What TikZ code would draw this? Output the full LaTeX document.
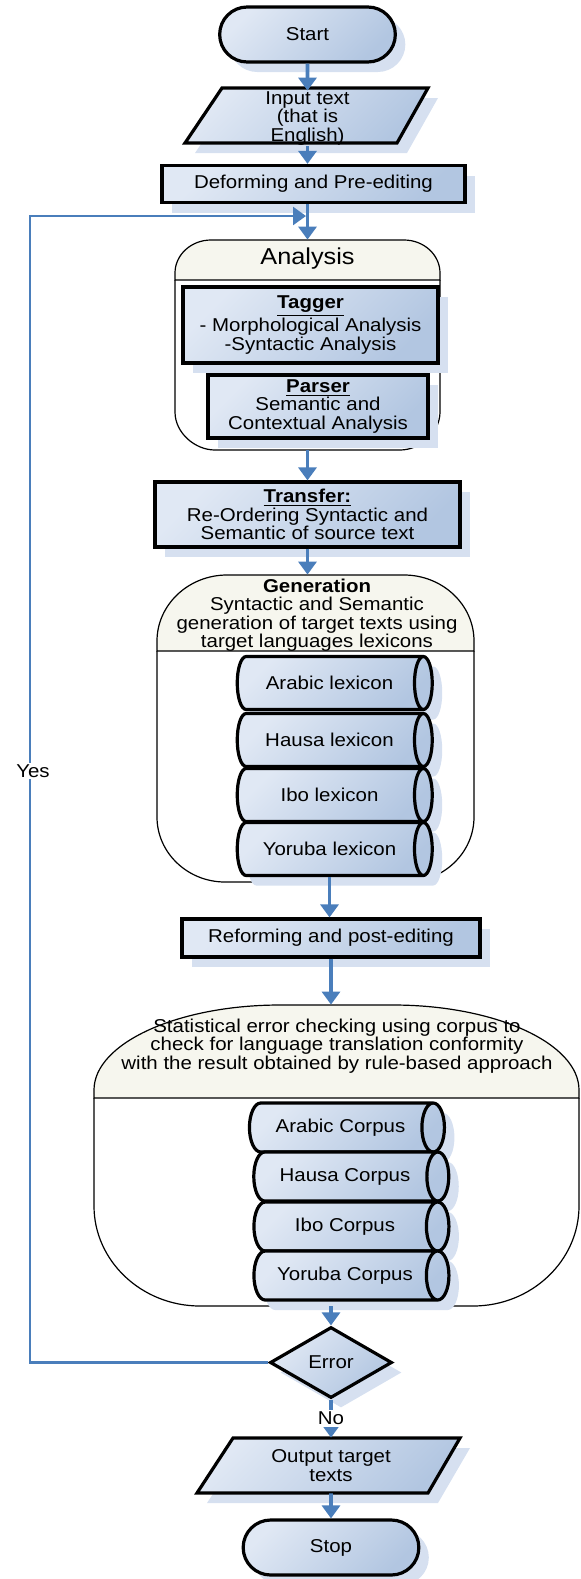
\documentclass[tikz,border=0pt]{standalone}
\usepackage{fontspec}
\setmainfont{Liberation Sans}[FakeStretch=1.1]
\usepackage{tikz}
\usetikzlibrary{arrows.meta}
\usetikzlibrary{shapes.geometric}
\usetikzlibrary{shapes.misc}
\usetikzlibrary{shadows}
\usetikzlibrary{fit}

\definecolor{boxlight}{HTML}{E0E8F4}
\definecolor{boxdark}{HTML}{B2C6E1}
\definecolor{shadowblue}{HTML}{D6E0F0}
\definecolor{flowblue}{HTML}{4A7EBB}
\definecolor{headfill}{HTML}{F6F6EE}

\begin{document}
\begin{tikzpicture}[x=0.5pt, y=-0.5pt,
    font=\fontsize{9.3}{9.2}\selectfont,
    every node/.style={align=center},
    bluefill/.style={top color=boxlight, bottom color=boxdark, shading angle=45},
    shadowed/.style={drop shadow={shadow xshift=5pt, shadow yshift=-5pt, fill=shadowblue, opacity=1}},
    procbox/.style={rectangle, draw, line width=1.6pt, bluefill, shadowed, inner sep=1pt},
    termbox/.style={rounded rectangle, draw, line width=1.6pt, bluefill, shadowed, minimum width=94.5pt, minimum height=27.5pt},
    lexicon/.style={cylinder, shape aspect=1.3, draw, line width=1.6pt, bluefill, shadowed, minimum height=97.5pt, minimum width=26.5pt, inner sep=0pt},
    corpus/.style={lexicon, minimum width=24.5pt},
    decision/.style={diamond, draw, line width=1.6pt, bluefill, shadowed, minimum width=61pt, minimum height=35.5pt, inner sep=0pt},
    iobox/.style={draw, line width=1.6pt, bluefill, shadowed},
    frame/.style={draw, line width=0.6pt},
    flow/.style={draw=flowblue, line width=1.8pt, -{Triangle[width=9pt,length=6.5pt]}},
    backflow/.style={flow, line width=1.3pt}]

  \useasboundingbox (0,0) rectangle (581,1579);

  \node[fit={(175,240) (440,450)}, inner sep=0] (ana) {};
  \filldraw[frame, fill=headfill] (175,280) -- (175,273) .. controls (175,254.8) and (191.2,240) .. (211,240) -- (404,240) .. controls (423.8,240) and (440,254.8) .. (440,273) -- (440,280) -- cycle;
  \draw[frame] (175,280) -- (175,412) .. controls (175,432.9) and (195,450) .. (215,450) -- (400,450) .. controls (420,450) and (440,432.9) .. (440,412) -- (440,280);

  \node[fit={(157,575) (474,882)}, inner sep=0] (gen) {};
  \filldraw[frame, fill=headfill] (157,651) -- (157,641) .. controls (157,604.7) and (188.5,575) .. (227,575) -- (404,575) .. controls (442.5,575) and (474,604.7) .. (474,641) -- (474,651) -- cycle;
  \draw[frame] (157,651) -- (157,817) .. controls (157,852.8) and (187.6,882) .. (225,882) -- (406,882) .. controls (443.4,882) and (474,852.8) .. (474,817) -- (474,651);

  \node[fit={(94,1005) (579,1306)}, inner sep=0] (stat) {};
  \filldraw[frame, fill=headfill] (94,1098) -- (94,1090) .. controls (94,1043.3) and (177.7,1005) .. (280,1005) -- (393,1005) .. controls (495.3,1005) and (579,1043.3) .. (579,1090) -- (579,1098) -- cycle;
  \draw[frame] (94,1098) -- (94,1206) .. controls (94,1261) and (141.7,1306) .. (200,1306) -- (473,1306) .. controls (531.3,1306) and (579,1261) .. (579,1206) -- (579,1098);

  \node[termbox] (start) at (307.5,34.5) {Start};
  \filldraw[iobox] (222,88) -- (428,88) -- (397,143) -- (185,143) -- cycle;
  \node[minimum width=100pt, minimum height=27.5pt, inner sep=0] (inp) at (307.5,118.5) {Input text\\(that is\\English)};
  \node[procbox, minimum width=151.5pt, minimum height=18.5pt] (def) at (313.5,184) {Deforming and Pre-editing};
  \node (anatitle) at (307.5,259) {\fontsize{11.5}{12}\selectfont Analysis};
  \node[procbox, minimum width=127.5pt, minimum height=38pt] (tag) at (310.5,325) {\underline{\textbf{Tagger}}\\- Morphological Analysis\\-Syntactic Analysis};
  \node[procbox, minimum width=110pt, minimum height=31.5pt] (par) at (318,406.5) {\underline{\textbf{Parser}}\\Semantic and\\Contextual Analysis};
  \node[procbox, minimum width=152.5pt, minimum height=32.5pt] (trans) at (307.5,514.5) {\underline{\textbf{Transfer:}}\\Re-Ordering Syntactic and\\Semantic of source text};
  \node (gentitle) at (317,615) {\textbf{Generation}\\Syntactic and Semantic\\generation of target texts using\\target languages lexicons};
  \node[lexicon] (alex) at (329.5,683) {Arabic lexicon};
  \node[lexicon] (hlex) at (329.5,740) {Hausa lexicon};
  \node[lexicon] (ilex) at (329.5,795) {Ibo lexicon};
  \node[lexicon] (ylex) at (329.5,849) {Yoruba lexicon};
  \node[procbox, minimum width=149pt, minimum height=19pt] (ref) at (331,938) {Reforming and post-editing};
  \node (stattitle) at (337,1046) {Statistical error checking using corpus to\\check for language translation conformity\\with the result obtained by rule-based approach};
  \node[corpus] (acor) at (340.5,1127.5) {Arabic Corpus};
  \node[corpus] (hcor) at (345,1176.5) {Hausa Corpus};
  \node[corpus] (icor) at (345,1226.5) {Ibo Corpus};
  \node[corpus] (ycor) at (345,1275.5) {Yoruba Corpus};
  \node[decision] (err) at (331,1362.5) {Error};
  \filldraw[iobox] (233,1438) -- (460,1438) -- (428,1493) -- (197,1493) -- cycle;
  \node[minimum width=100pt, minimum height=27.5pt, inner sep=0] (out) at (331,1465.5) {Output target\\texts};
  \node[termbox] (stop) at (331,1547.5) {Stop};

  \coordinate (loopc) at (30,216);
  \coordinate (join) at (306,216);
  \draw[flow] (start) -- (inp.north);
  \draw[flow] (inp.south) -- (inp.south |- def.north);
  \draw[flow] (ana.north |- def.south) -- (ana.north);
  \draw[backflow] (err.west) -| (loopc) -- (join);
  \node[fill=white, inner sep=1pt] (yes) at (33,771) {Yes};
  \draw[flow] (ana) -- (trans);
  \draw[flow] (trans.south) -- (trans.south |- gen.north);
  \draw[flow] (ylex.south) -- (ylex.south |- ref.north);
  \draw[flow] (ref.south) -- (ref.south |- stat.north);
  \draw[flow] (err.north |- stat.south) -- (err.north);
  \draw[flow] (err) -- node[fill=white, inner sep=1pt] (no) {No} (out);
  \draw[flow] (out) -- (stop);
\end{tikzpicture}
\end{document}
